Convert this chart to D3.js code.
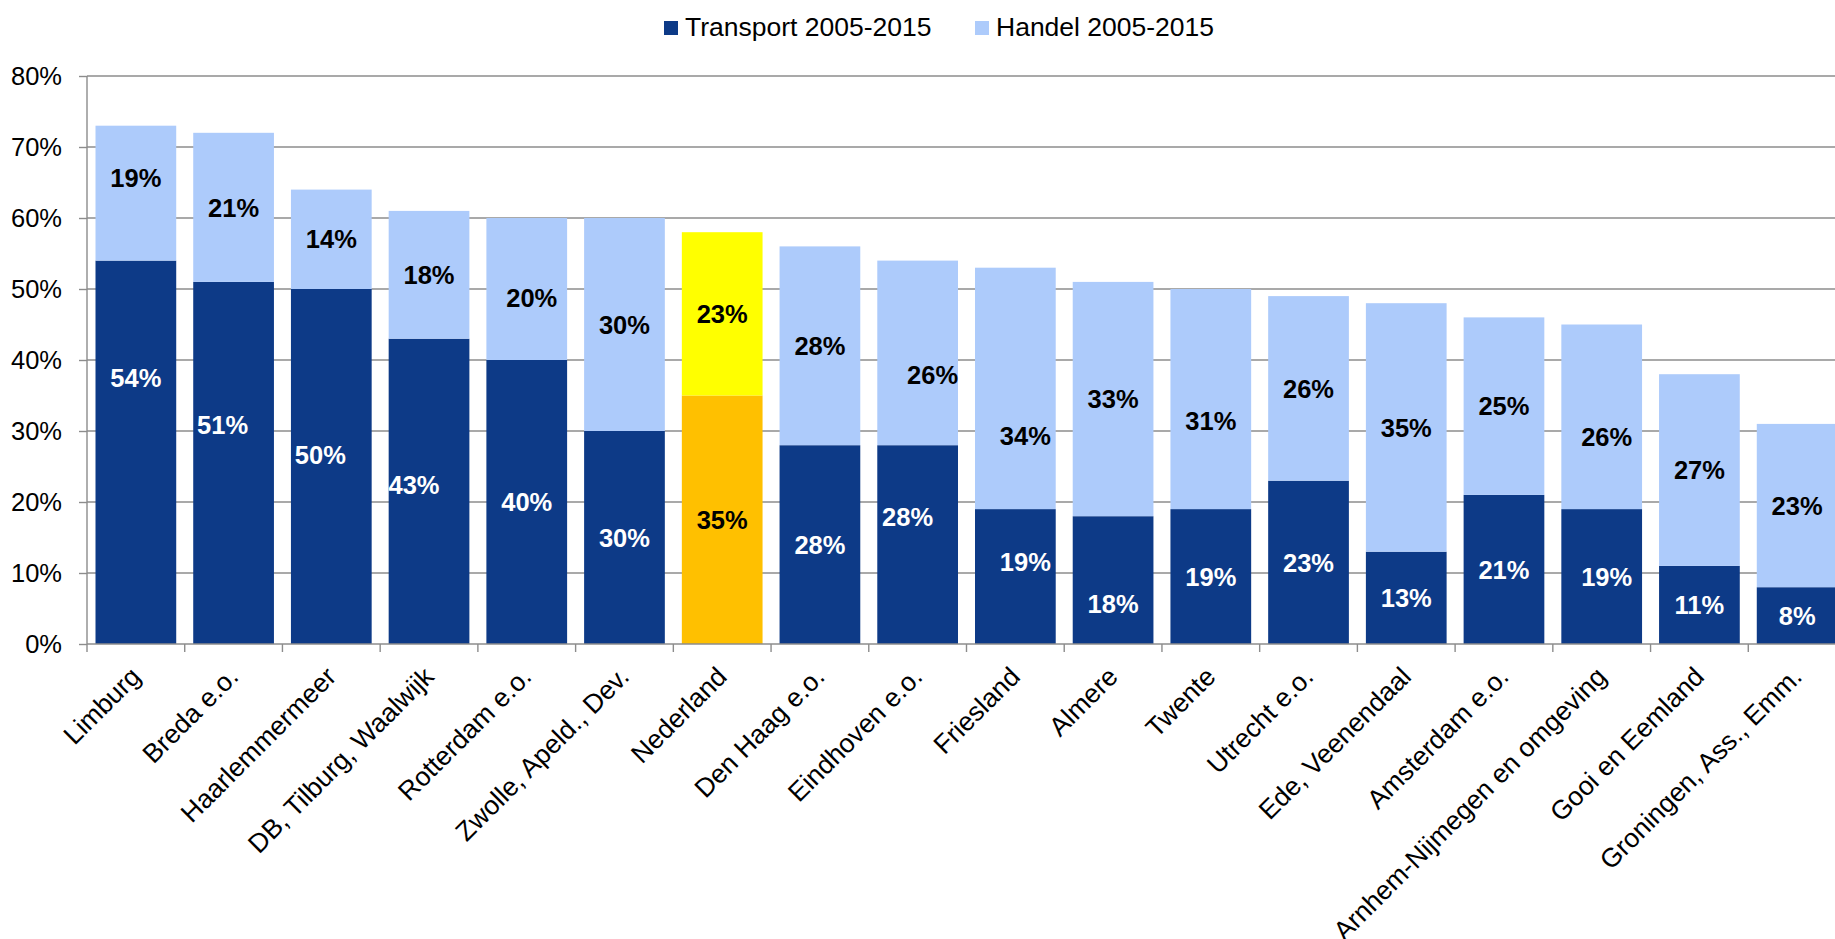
<!DOCTYPE html>
<html>
<head>
<meta charset="utf-8">
<script src="https://cdn.jsdelivr.net/npm/d3@7"></script>
<style>
  body { margin: 0; background: #fff; }
  text { font-family: "Liberation Sans", Arial, sans-serif; }
</style>
</head>
<body>
<svg width="1835" height="939"></svg>
<script>
//// STACKED BAR CHART: TRANSPORT + HANDEL 2005-2015 ////

var categories = ["Limburg", "Breda e.o.", "Haarlemmermeer", "DB, Tilburg, Waalwijk",
    "Rotterdam e.o.", "Zwolle, Apeld., Dev.", "Nederland", "Den Haag e.o.",
    "Eindhoven e.o.", "Friesland", "Almere", "Twente", "Utrecht e.o.",
    "Ede, Veenendaal", "Amsterdam e.o.", "Arnhem-Nijmegen en omgeving",
    "Gooi en Eemland", "Groningen, Ass., Emm."];
var transport = [54, 51, 50, 43, 40, 30, 35, 28, 28, 19, 18, 19, 23, 13, 21, 19, 11, 8];
var handel = [19, 21, 14, 18, 20, 30, 23, 28, 26, 34, 33, 31, 26, 35, 25, 26, 27, 23];
var seriesNames = ["Transport 2005-2015", "Handel 2005-2015"];
var yTicks = [0, 10, 20, 30, 40, 50, 60, 70, 80];
var highlight = "Nederland";

// manual nudges of the data labels (pixels), as in the original chart
var transportNudge = [[0, -74], [-11, -38], [-11, -12], [-15, -7], [0, 0], [0, 0], [0, 0], [0, 0],
    [-10, -28], [10, -15], [0, 24], [0, 0], [0, 0], [0, 0], [0, 0], [5, 0], [0, 0], [0, 0]];
var handelNudge = [[0, -15], [0, 0], [0, 0], [0, 0], [5, 9], [0, 0], [0, 0], [0, 0],
    [15, 22], [10, 47], [0, 0], [0, 22], [0, 0], [0, 0], [0, 0], [5, 20], [0, 0], [0, 0]];

var colors = { transport: "#0d3a87", handel: "#adcbfb", hlTransport: "#ffc000", hlHandel: "#ffff00" };

drawChart();

function drawChart() {
    var data = categories.map(function (c, i) {
        return { name: c, transport: transport[i], handel: handel[i], i: i };
    });

    var svg = d3.select("svg");
    var plotLeft = 87, plotRight = 1846, plotTop = 76, plotBottom = 644;

    var x = d3.scaleBand().domain(categories).range([plotLeft, plotRight])
        .paddingInner(0.174).paddingOuter(0.087);
    var y = d3.scaleLinear().domain([0, 80]).range([plotBottom, plotTop]);

    // gridlines
    svg.append("g")
        .selectAll("line")
        .data(yTicks.slice(1))
        .enter().append("line")
        .attr("x1", plotLeft).attr("x2", 1835)
        .attr("y1", function (d) { return y(d); })
        .attr("y2", function (d) { return y(d); })
        .attr("stroke", "#8c8c8c").attr("stroke-width", 1.4);

    // bars
    var stack = d3.stack().keys(["transport", "handel"])(data);
    svg.append("g").selectAll("g")
        .data(stack)
        .enter().append("g")
        .selectAll("rect")
        .data(function (s) { return s.map(function (d) { d.key = s.key; return d; }); })
        .enter().append("rect")
        .attr("x", function (d) { return x(d.data.name); })
        .attr("y", function (d) { return y(d[1]); })
        .attr("width", x.bandwidth())
        .attr("height", function (d) { return y(d[0]) - y(d[1]); })
        .attr("fill", function (d) {
            var hl = d.data.name === highlight;
            if (d.key === "transport") return hl ? colors.hlTransport : colors.transport;
            return hl ? colors.hlHandel : colors.handel;
        });

    // data labels
    svg.append("g").selectAll("g")
        .data(stack)
        .enter().append("g")
        .selectAll("text")
        .data(function (s) { return s; })
        .enter().append("text")
        .attr("text-anchor", "middle")
        .attr("dy", "0.36em")
        .attr("font-size", 25.5)
        .attr("font-weight", "bold")
        .attr("x", function (d) {
            var n = d.key === "transport" ? transportNudge : handelNudge;
            return x(d.data.name) + x.bandwidth() / 2 + n[d.data.i][0];
        })
        .attr("y", function (d) {
            var n = d.key === "transport" ? transportNudge : handelNudge;
            return y((d[0] + d[1]) / 2) + n[d.data.i][1];
        })
        .attr("fill", function (d) {
            return (d.key === "transport" && d.data.name !== highlight) ? "#fff" : "#000";
        })
        .text(function (d) { return (d[1] - d[0]) + "%"; });

    // y axis
    var yAxis = svg.append("g")
        .attr("transform", "translate(" + plotLeft + ",0)")
        .call(d3.axisLeft(y).tickValues(yTicks).tickSize(8).tickPadding(17)
            .tickFormat(function (d) { return d + "%"; }));
    yAxis.selectAll("line, path").attr("stroke", "#8c8c8c").attr("stroke-width", 1.4);
    yAxis.select(".domain").attr("d", "M0," + plotTop + "V" + plotBottom);
    yAxis.selectAll("text").attr("font-size", 25.5).attr("font-family", "Liberation Sans, Arial, sans-serif")
        .attr("fill", "#000");

    // x axis (ticks between categories)
    var xAxis = svg.append("g").attr("transform", "translate(0," + plotBottom + ")");
    xAxis.append("line").attr("x1", plotLeft).attr("x2", 1835).attr("y1", 0).attr("y2", 0)
        .attr("stroke", "#8c8c8c").attr("stroke-width", 1.4);
    xAxis.selectAll(".tk")
        .data(categories)
        .enter().append("line")
        .attr("class", "tk")
        .attr("x1", function (d) { return x(d) - x.step() * x.paddingInner() / 2; })
        .attr("x2", function (d) { return x(d) - x.step() * x.paddingInner() / 2; })
        .attr("y1", 0).attr("y2", 8)
        .attr("stroke", "#8c8c8c").attr("stroke-width", 1.4);
    xAxis.selectAll(".lbl")
        .data(categories)
        .enter().append("text")
        .attr("class", "lbl")
        .attr("text-anchor", "end")
        .attr("font-size", 26.5)
        .attr("dy", "0.71em")
        .attr("transform", function (d) {
            return "translate(" + (x(d) + x.bandwidth() / 2 - 7) + ",21) rotate(-45)";
        })
        .text(function (d) { return d; });

    // legend
    var legend = svg.append("g");
    var legendX = [664, 975];
    legend.selectAll("rect")
        .data(seriesNames)
        .enter().append("rect")
        .attr("x", function (d, i) { return legendX[i]; })
        .attr("y", 21)
        .attr("width", 14).attr("height", 14)
        .attr("fill", function (d, i) { return i === 0 ? colors.transport : colors.handel; });
    legend.selectAll("text")
        .data(seriesNames)
        .enter().append("text")
        .attr("x", function (d, i) { return legendX[i] + 21; })
        .attr("y", 36.4)
        .attr("font-size", 26.5)
        .text(function (d) { return d; });
}
</script>
</body>
</html>
